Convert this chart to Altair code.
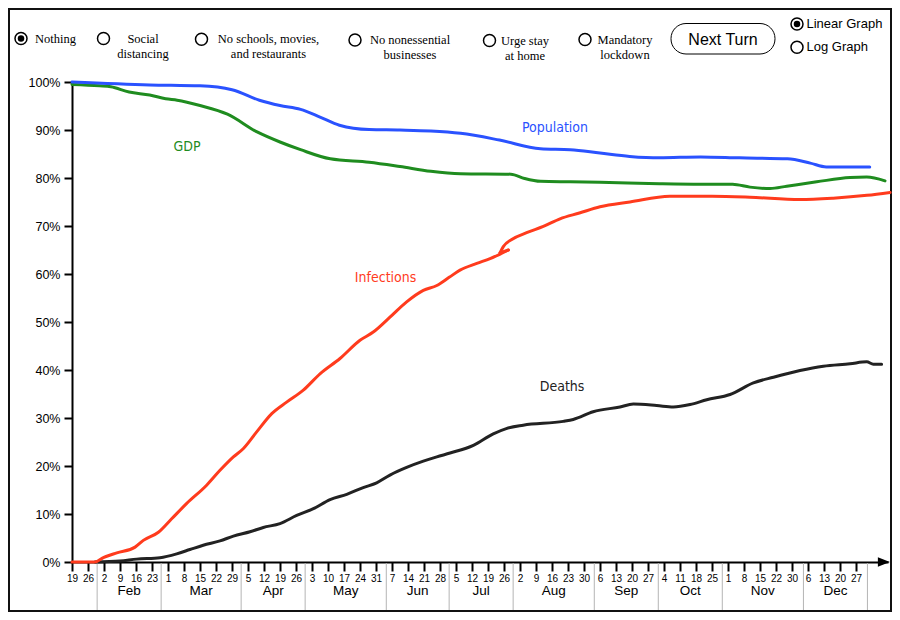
import altair as alt
import pandas as pd

# ---------------- data (x = days since Jan 19, y = percent) ----------------
pop_day = [0, 34, 56, 70, 82, 91, 100, 108.5, 117, 130, 143.5, 157, 170, 187, 205, 218, 231, 244, 257, 275, 292, 313, 323, 330, 349]
pop_val = [100, 99.4, 99.2, 98.4, 96.2, 95.1, 94.3, 92.7, 91.0, 90.1, 90.0, 89.8, 89.3, 87.9, 86.1, 85.9, 85.2, 84.5, 84.2, 84.4, 84.2, 84.0, 83.1, 82.3, 82.3]

gdp_day = [0, 12, 17, 25, 34, 41, 46, 56, 68, 81, 91, 100, 113, 130, 143.5, 157, 170, 192, 198, 205, 218, 231, 257, 275, 289, 296.6, 305.4, 312.7, 325.8, 340.4, 347.7, 355.7]
gdp_val = [99.5, 99.2, 99.0, 97.9, 97.3, 96.5, 96.2, 95.1, 93.3, 89.6, 87.5, 85.9, 84.0, 83.3, 82.4, 81.4, 80.9, 80.8, 79.9, 79.3, 79.2, 79.1, 78.8, 78.7, 78.7, 78.1, 77.8, 78.3, 79.2, 80.1, 80.2, 79.4]

# infections: rising part, the small hook at end of July, and the continuation
inf_a_day = [0, 10, 13.7, 19.6, 27.6, 31.2, 37.8, 43.6, 50.2, 58.9, 64.75, 70.6, 74.9, 80.8, 87.4, 93.9, 101.2, 108.5, 117.25, 126, 131.8, 139.1, 146.4, 153.7, 159.6, 165, 169.75, 177.1, 182.9, 190.9]
inf_a_val = [0, 0, 0.9, 1.9, 3.1, 4.5, 6.2, 9.0, 12.2, 16.0, 19.1, 21.9, 23.6, 27.1, 30.9, 33.3, 35.8, 39.2, 42.4, 46.2, 47.9, 51.0, 54.2, 56.6, 57.6, 59.3, 60.8, 62.2, 63.2, 65.0]
inf_hook_day = [190.9, 187.25]
inf_hook_val = [65.0, 64.4]
inf_b_day = [187.25, 188.7, 192.4, 198.9, 206.2, 213.5, 222, 231, 244.1, 261.6, 280, 296.6, 318.5, 333, 347.8, 357.9]
inf_b_val = [64.4, 65.7, 67.2, 68.6, 69.9, 71.5, 72.7, 74.0, 75.0, 76.2, 76.2, 76.0, 75.5, 75.8, 76.4, 77.0]

dth_day = [10, 21, 28.3, 38.5, 45.8, 51.6, 57.4, 64.75, 70.6, 77.9, 83.7, 91, 98.3, 105.6, 112.9, 120.2, 127.4, 133.3, 139.1, 146.4, 153.7, 159.6, 165.4, 175.6, 184.3, 190, 197.4, 214.9, 219.3, 228, 239.75, 245.6, 255.8, 263.1, 270.4, 277.7, 287.9, 298.1, 306.9, 318.5, 328.7, 340.4, 347.7, 350.6, 354.2]
dth_val = [0, 0.2, 0.6, 0.9, 1.7, 2.6, 3.5, 4.4, 5.4, 6.3, 7.2, 8.0, 9.7, 11.1, 13.0, 14.1, 15.5, 16.5, 18.1, 19.7, 21.0, 21.9, 22.7, 24.3, 26.7, 27.8, 28.5, 29.3, 29.7, 31.3, 32.3, 32.9, 32.6, 32.3, 32.8, 33.8, 34.9, 37.3, 38.5, 39.9, 40.8, 41.3, 41.7, 41.2, 41.2]

series_names = ["Population", "GDP", "Infections", "Deaths"]
series_colors = ["#2a52ff", "#1f8c1f", "#ff3b1d", "#222222"]
label_day = [211.3, 50.3, 137.2, 214.4]
label_val = [90.5, 86.5, 59.2, 36.4]

tick_labels = ["19", "26", "2", "9", "16", "23", "1", "8", "15", "22", "29", "5", "12", "19", "26",
               "3", "10", "17", "24", "31", "7", "14", "21", "28", "5", "12", "19", "26",
               "2", "9", "16", "23", "30", "6", "13", "20", "27", "4", "11", "18", "25",
               "1", "8", "15", "22", "30", "6", "13", "20", "27"]
month_names = ["Feb", "Mar", "Apr", "May", "Jun", "Jul", "Aug", "Sep", "Oct", "Nov", "Dec"]
month_edges = [11, 39, 74, 102, 137.5, 165, 193, 228.5, 256.5, 284.5, 320, 348]

# UI controls above the chart (page pixel positions)
radio_px = [21, 103.5, 201.5, 355, 489.5, 585, 797, 797]
radio_py = [38.5, 38.5, 39.3, 40, 40.5, 39.5, 24, 47.3]
radio_on = [True, False, False, False, False, False, True, False]
option_text = ["Nothing", "Social\ndistancing", "No schools, movies,\nand restaurants",
               "No nonessential\nbusinesses", "Urge stay\nat home", "Mandatory\nlockdown"]
option_px = [55.5, 143, 268.5, 410, 525, 625]

# ---------------- build tables ----------------
rows = []
for name, seg, ds, vs in [("GDP", "g", gdp_day, gdp_val), ("Population", "p", pop_day, pop_val),
                          ("Deaths", "d", dth_day, dth_val), ("Infections", "ia", inf_a_day, inf_a_val),
                          ("Infections", "ih", inf_hook_day, inf_hook_val),
                          ("Infections", "ib", inf_b_day, inf_b_val)]:
    for d, v in zip(ds, vs):
        rows.append({"series": name, "seg": seg, "day": d, "val": v})
lines_df = pd.DataFrame(rows)

labels_df = pd.DataFrame({"series": series_names, "day": label_day, "val": label_val})
dividers_df = pd.DataFrame({"day": month_edges})
months_df = pd.DataFrame({
    "m": month_names,
    "day": [(month_edges[i] + month_edges[i + 1]) / 2 for i in range(len(month_names))],
})
arrow_df = pd.DataFrame({"day": [355.2], "val": [0]})
one = pd.DataFrame({"k": [0]})

W, H = 816, 480
LEFT, TOP, RIGHT, BOTTOM = 64, 74, 4, 50
TOTAL_W = LEFT + W + RIGHT   # 884 = 900 - 2*8 margin
TOTAL_H = TOP + H + BOTTOM   # 604 = 620 - 2*8 margin
OX, OY = 8 + LEFT, 8 + TOP   # page position of plot origin


def at(px, py):
    return dict(x=alt.value(px - OX), y=alt.value(py - OY))


label_expr = "[" + ",".join("'%s'" % t for t in tick_labels) + "][round(datum.value/7)]"

X_ENC = alt.X(
    "day:Q",
    scale=alt.Scale(domain=[0, 357], nice=False, zero=False),
    axis=alt.Axis(
        values=list(range(0, 344, 7)), labelExpr=label_expr, tickSize=9, tickWidth=2,
        tickColor="black", domainColor="black", domainWidth=2, labelFont="Liberation Sans",
        labelFontSize=10, labelColor="black", labelPadding=2, labelOverlap=False,
        labelFlush=False, labelAngle=0, grid=False, title=None,
    ),
)
Y_ENC = alt.Y(
    "val:Q",
    scale=alt.Scale(domain=[0, 100], nice=False, zero=True),
    axis=alt.Axis(
        values=list(range(0, 101, 10)), labelExpr="datum.value + '%'", tickSize=8, tickWidth=2,
        tickColor="black", domainColor="black", domainWidth=2, labelFont="Liberation Sans",
        labelFontSize=12.5, labelColor="black", labelPadding=4, grid=False, title=None,
    ),
)
COLOR = alt.Color("series:N", scale=alt.Scale(domain=series_names, range=series_colors), legend=None)

layers = []

# frame
layers.append(
    alt.Chart(one).mark_rect(fill="white", fillOpacity=0, stroke="#111", strokeWidth=2).encode(
        x=alt.value(1 - LEFT), x2=alt.value(TOTAL_W - 1 - LEFT),
        y=alt.value(1 - TOP), y2=alt.value(TOTAL_H - 1 - TOP)
    )
)

# month dividers and month names
layers.append(
    alt.Chart(dividers_df).mark_rule(color="#b4b4b4", strokeWidth=1).encode(
        x=X_ENC, y=alt.value(H + 1), y2=alt.value(TOTAL_H - 2 - TOP)
    )
)
layers.append(
    alt.Chart(months_df).mark_text(font="Liberation Sans", fontSize=13.5, color="black", baseline="middle").encode(
        x=X_ENC, y=alt.value(509), text="m:N"
    )
)

# data lines
layers.append(
    alt.Chart(lines_df).mark_line(strokeWidth=3, strokeCap="round", strokeJoin="round", interpolate="monotone").encode(
        x=X_ENC, y=Y_ENC, color=COLOR, detail="seg:N"
    )
)

# axis arrowhead
layers.append(
    alt.Chart(arrow_df).mark_point(shape="M-1,-0.8L1,0L-1,0.8Z", size=144, filled=True, color="black", opacity=1).encode(
        x=X_ENC, y=Y_ENC
    )
)

# series labels
layers.append(
    alt.Chart(labels_df).mark_text(font="DejaVu Sans Condensed, DejaVu Sans", fontSize=14, baseline="middle").encode(
        x=X_ENC, y=Y_ENC, text="series:N", color=COLOR
    )
)

# radio buttons
for px, py, on in zip(radio_px, radio_py, radio_on):
    layers.append(
        alt.Chart(one).mark_point(shape="circle", size=144, filled=False, color="black", strokeWidth=1.5, opacity=1).encode(**at(px, py))
    )
    if on:
        layers.append(
            alt.Chart(one).mark_point(shape="circle", size=42, filled=True, color="black", opacity=1).encode(**at(px, py))
        )

# option texts
for txt, px, py in zip(option_text, option_px, radio_py[:6]):
    layers.append(
        alt.Chart(pd.DataFrame({"t": [txt]})).mark_text(
            font="Liberation Serif", fontSize=12.5, align="center", baseline="middle", lineBreak="\n",
            lineHeight=15, color="black"
        ).encode(text="t:N", **at(px, py))
    )

# Next Turn button
layers.append(
    alt.Chart(one).mark_rect(cornerRadius=15, fill="white", stroke="black", strokeWidth=1).encode(
        x=alt.value(671 - OX), x2=alt.value(775 - OX), y=alt.value(23.5 - OY), y2=alt.value(54 - OY)
    )
)
layers.append(
    alt.Chart(pd.DataFrame({"t": ["Next Turn"]})).mark_text(
        font="Liberation Sans", fontSize=16, align="center", baseline="middle", color="black"
    ).encode(text="t:N", **at(723, 39.5))
)
for txt, py in [("Linear Graph", 24), ("Log Graph", 47.3)]:
    layers.append(
        alt.Chart(pd.DataFrame({"t": [txt]})).mark_text(
            font="Liberation Sans", fontSize=13, align="left", baseline="middle", color="black"
        ).encode(text="t:N", **at(806.5, py))
    )

chart = alt.layer(*layers).properties(
    width=W, height=H,
    background="white",
    autosize=alt.AutoSizeParams(type="none"),
    padding={"left": LEFT, "top": TOP, "right": RIGHT, "bottom": BOTTOM},
).configure_view(stroke=None)

chart.save("out.html", embed_options={"renderer": "svg", "actions": False})
